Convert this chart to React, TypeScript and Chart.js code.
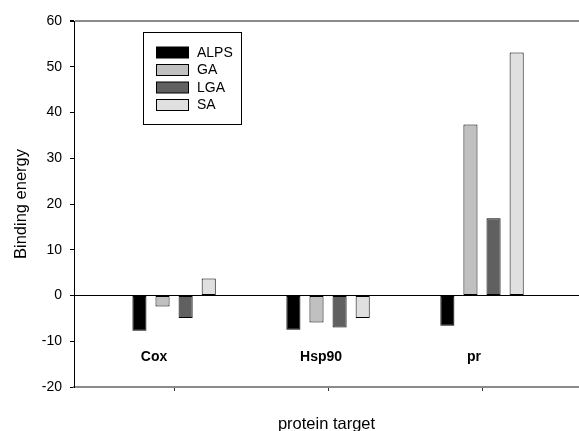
import React, { useEffect, useRef } from "react";
import { Chart, registerables } from "chart.js";

Chart.register(...registerables);

const categories = ["Cox", "Hsp90", "pr"];
const seriesNames = ["ALPS", "GA", "LGA", "SA"];
const alps = [-7.7, -7.5, -6.6];
const ga = [-2.4, -5.9, 37.4];
const lga = [-4.9, -7.0, 16.9];
const sa = [3.7, -4.9, 53.1];
const yTicks = [-20, -10, 0, 10, 20, 30, 40, 50, 60];

const seriesValues = [alps, ga, lga, sa];
const seriesColors = ["#000000", "#c0c0c0", "#606060", "#e0e0e0"];
const labelDx = [-20, -7, -8];
const labelYValue = -13.5;

const FONT = "'Liberation Sans', Arial, sans-serif";

const overlayPlugin = {
  id: "overlay",
  afterDatasetsDraw(chart: any) {
    const ctx = chart.ctx;
    const xs = chart.scales.x;
    const ys = chart.scales.y;
    ctx.save();
    // category labels inside plot
    ctx.fillStyle = "#000";
    ctx.font = `bold 14px ${FONT}`;
    ctx.textAlign = "center";
    ctx.textBaseline = "middle";
    categories.forEach((c, i) => {
      ctx.fillText(c, xs.getPixelForValue(i + 1) + labelDx[i], ys.getPixelForValue(labelYValue));
    });
    // legend
    const bx = 143.5, by = 32.5, bw = 98, bh = 92;
    ctx.fillStyle = "#fff";
    ctx.fillRect(bx, by, bw, bh);
    ctx.strokeStyle = "#000";
    ctx.lineWidth = 1;
    ctx.strokeRect(bx, by, bw, bh);
    ctx.font = `14px ${FONT}`;
    ctx.textAlign = "left";
    chart.data.datasets.forEach((ds: any, i: number) => {
      const cy = 52.5 + i * 17.5;
      ctx.fillStyle = ds.backgroundColor;
      ctx.fillRect(156.5, cy - 5.5, 32, 11);
      ctx.strokeStyle = "#000";
      ctx.strokeRect(156.5, cy - 5.5, 32, 11);
      ctx.fillStyle = "#000";
      ctx.fillText(ds.label, 197, cy + 0.5);
    });
    ctx.restore();
  },
};

export default function App() {
  const ref = useRef<HTMLCanvasElement>(null);
  useEffect(() => {
    document.body.style.margin = "0";
    const datasets = seriesNames.map((name, si) => ({
      label: name,
      data: seriesValues[si].map((v, ci) => ({ x: ci + 1, y: v })),
      backgroundColor: seriesColors[si],
      borderColor: "#000",
      borderWidth: 1,
      borderSkipped: false,
      categoryPercentage: 0.6,
      barPercentage: 0.61,
    }));
    const chart = new Chart(ref.current as HTMLCanvasElement, {
      type: "bar",
      data: { datasets } as any,
      plugins: [overlayPlugin],
      options: {
        animation: false,
        responsive: false,
        maintainAspectRatio: false,
        layout: { padding: { top: 21, right: 0, left: 0, bottom: 0 } },
        plugins: { legend: { display: false }, tooltip: { enabled: false } },
        scales: {
          x: {
            type: "linear",
            min: 0.35,
            max: 3.63,
            offset: false,
            afterBuildTicks: (axis: any) => {
              axis.ticks = categories.map((_, i) => ({ value: i + 1 }));
            },
            afterFit: (axis: any) => {
              axis.height = 44;
            },
            ticks: { display: false },
            grid: {
              offset: false,
              drawOnChartArea: false,
              drawTicks: true,
              tickLength: 4,
              tickColor: "#333",
            },
            border: { color: "#8a8a8a", width: 2 },
            title: {
              display: true,
              text: "protein target",
              color: "#000",
              font: { family: FONT, size: 16.5 },
              padding: { top: 0, bottom: -3 },
            },
          },
          y: {
            type: "linear",
            min: -20,
            max: 60,
            afterBuildTicks: (axis: any) => {
              axis.ticks = yTicks.map((v) => ({ value: v }));
            },
            afterFit: (axis: any) => {
              axis.width = 74;
            },
            ticks: {
              color: "#000",
              font: { family: FONT, size: 14 },
              padding: 8,
            },
            grid: {
              drawOnChartArea: true,
              drawTicks: true,
              tickLength: 4,
              tickColor: "#000",
              color: (c: any) =>
                c.tick && c.tick.value === 0
                  ? "#000"
                  : c.tick && c.tick.value === 60
                  ? "#8a8a8a"
                  : "rgba(0,0,0,0)",
              lineWidth: (c: any) => (c.tick && c.tick.value === 60 ? 2 : 1),
            },
            border: { color: "#000", width: 1 },
            title: {
              display: true,
              text: "Binding energy",
              color: "#000",
              font: { family: FONT, size: 16.5 },
              padding: { top: 12, bottom: 0 },
            },
          },
        },
      } as any,
    });
    return () => chart.destroy();
  }, []);
  return (
    <div style={{ width: 579, height: 431, background: "#fff" }}>
      <canvas ref={ref} width={579} height={431} style={{ display: "block" }} />
    </div>
  );
}
